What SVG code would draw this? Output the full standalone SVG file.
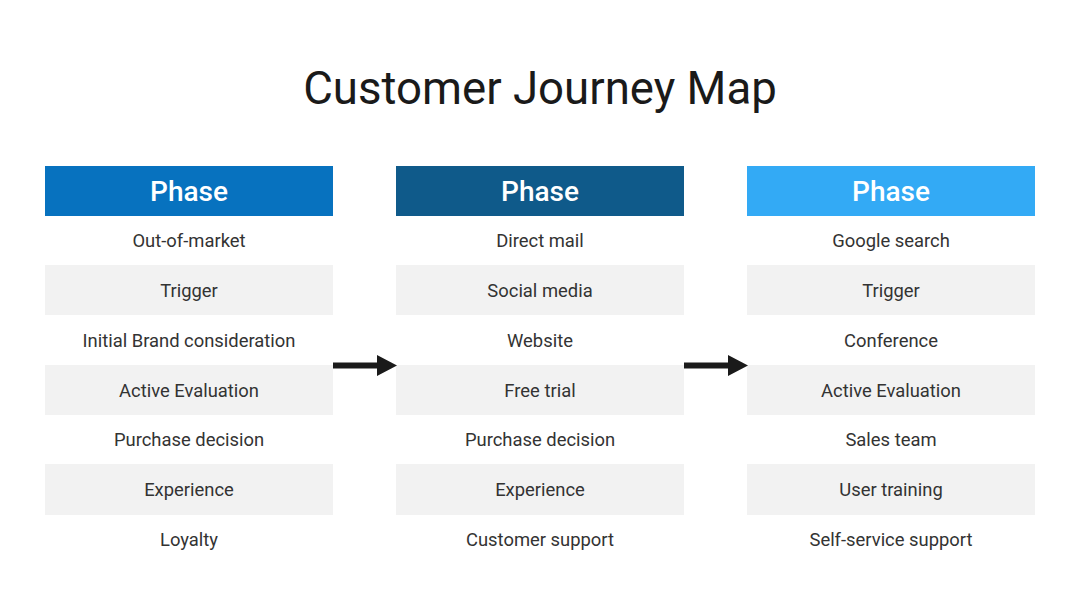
<svg xmlns="http://www.w3.org/2000/svg" width="1080" height="608" viewBox="0 0 1080 608">
<defs>
<style>
.t{font-family:Roboto,"Liberation Sans",sans-serif;text-anchor:middle}
.title{font-size:45.6px;fill:#1a1a1a}
.hd{font-size:28px;font-weight:500;fill:#ffffff}
.it{font-size:18.4px;fill:#333333}
.g{fill:#f2f2f2}
</style>
</defs>
<rect width="1080" height="608" fill="#ffffff"/>
<text class="t title" x="540" y="104">Customer Journey Map</text>
<g id="col1">
<rect x="45" y="166" width="288" height="50" fill="#0772bf"/>
<text class="t hd" x="189" y="201">Phase</text>
<rect class="g" x="45" y="265" width="288" height="50"/>
<rect class="g" x="45" y="365" width="288" height="50"/>
<rect class="g" x="45" y="464" width="288" height="51"/>
<text class="t it" x="189" y="247">Out-of-market</text>
<text class="t it" x="189" y="297">Trigger</text>
<text class="t it" x="189" y="347">Initial Brand consideration</text>
<text class="t it" x="189" y="397">Active Evaluation</text>
<text class="t it" x="189" y="446">Purchase decision</text>
<text class="t it" x="189" y="496">Experience</text>
<text class="t it" x="189" y="546">Loyalty</text>
</g>
<g id="col2">
<rect x="396" y="166" width="288" height="50" fill="#0f5a8a"/>
<text class="t hd" x="540" y="201">Phase</text>
<rect class="g" x="396" y="265" width="288" height="50"/>
<rect class="g" x="396" y="365" width="288" height="50"/>
<rect class="g" x="396" y="464" width="288" height="51"/>
<text class="t it" x="540" y="247">Direct mail</text>
<text class="t it" x="540" y="297">Social media</text>
<text class="t it" x="540" y="347">Website</text>
<text class="t it" x="540" y="397">Free trial</text>
<text class="t it" x="540" y="446">Purchase decision</text>
<text class="t it" x="540" y="496">Experience</text>
<text class="t it" x="540" y="546">Customer support</text>
</g>
<g id="col3">
<rect x="747" y="166" width="288" height="50" fill="#33aaf5"/>
<text class="t hd" x="891" y="201">Phase</text>
<rect class="g" x="747" y="265" width="288" height="50"/>
<rect class="g" x="747" y="365" width="288" height="50"/>
<rect class="g" x="747" y="464" width="288" height="51"/>
<text class="t it" x="891" y="247">Google search</text>
<text class="t it" x="891" y="297">Trigger</text>
<text class="t it" x="891" y="347">Conference</text>
<text class="t it" x="891" y="397">Active Evaluation</text>
<text class="t it" x="891" y="446">Sales team</text>
<text class="t it" x="891" y="496">User training</text>
<text class="t it" x="891" y="546">Self-service support</text>
</g>
<g id="connectors" fill="#1a1a1a">
<path d="M333,362.5 H377 V355 L397,365.5 L377,376 V368.5 H333 Z"/>
<path d="M684,362.5 H728 V355 L748,365.5 L728,376 V368.5 H684 Z"/>
</g>
</svg>
